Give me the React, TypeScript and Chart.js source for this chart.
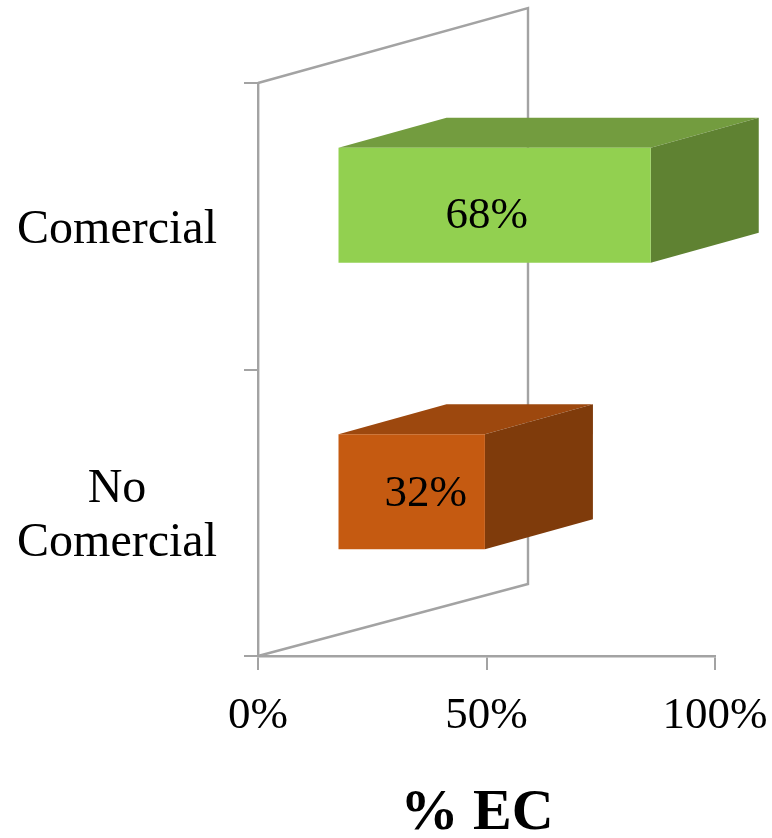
import React, { useEffect, useRef } from "react";
import { Chart, registerables } from "chart.js";

Chart.register(...registerables);

const categories = [["Comercial"], ["No", "Comercial"]];
const shares = [68, 32];
const shareLabels = ["68%", "32%"];
const frontColors = ["#92D050", "#C55A11"];
const topColors = ["#739C3F", "#9D480E"];
const sideColors = ["#5F8232", "#7F3B0B"];
const xTicks = [0, 50, 100];
const axisTitle = "% EC";

const GRAY = "#A3A3A3";
const SERIF = "'Liberation Serif'";

const FRONT_DX = 79.5;
const FRONT_DY = -21;
const FRONT_SCALE = 1.008;
const DEPTH_X = 108;
const DEPTH_Y = -30;
const WALL_X = 270;
const WALL_Y = -75;
const LABEL_SHIFT = [
  [-8, 11],
  [14, 2],
];

function poly(ctx: CanvasRenderingContext2D, pts: number[][], fill: string) {
  ctx.beginPath();
  pts.forEach(([x, y], i) => (i ? ctx.lineTo(x, y) : ctx.moveTo(x, y)));
  ctx.closePath();
  ctx.fillStyle = fill;
  ctx.fill();
}

const box3d = {
  id: "box3d",
  beforeDatasetsDraw(chart: any) {
    const { ctx, chartArea: a } = chart;
    ctx.save();
    ctx.strokeStyle = GRAY;
    ctx.lineWidth = 2.4;
    ctx.lineJoin = "miter";
    ctx.beginPath();
    ctx.moveTo(a.left, a.top);
    ctx.lineTo(a.left + WALL_X, a.top + WALL_Y);
    ctx.lineTo(a.left + WALL_X, a.bottom + WALL_Y + 3);
    ctx.lineTo(a.left, a.bottom);
    ctx.stroke();
    ctx.restore();
  },
  beforeDatasetDraw(chart: any) {
    const { ctx, chartArea: a } = chart;
    const meta = chart.getDatasetMeta(0);
    ctx.save();
    ctx.translate(a.left + FRONT_DX, FRONT_DY);
    ctx.scale(FRONT_SCALE, 1);
    ctx.translate(-a.left, 0);
    const dx = DEPTH_X / FRONT_SCALE;
    meta.data.forEach((bar: any, i: number) => {
      const { x, y, base, height } = bar.getProps(["x", "y", "base", "height"], true);
      const t = y - height / 2;
      const b = y + height / 2;
      poly(ctx, [[base, t], [x, t], [x + dx, t + DEPTH_Y], [base + dx, t + DEPTH_Y]], topColors[i]);
      poly(ctx, [[x, t], [x + dx, t + DEPTH_Y], [x + dx, b + DEPTH_Y], [x, b]], sideColors[i]);
    });
  },
  afterDatasetDraw(chart: any) {
    const { ctx } = chart;
    const meta = chart.getDatasetMeta(0);
    ctx.restore();
    ctx.save();
    ctx.font = `45px ${SERIF}`;
    ctx.fillStyle = "#000";
    ctx.textAlign = "center";
    ctx.textBaseline = "middle";
    meta.data.forEach((bar: any, i: number) => {
      const { x, y, base } = bar.getProps(["x", "y", "base"], true);
      const cx = base + FRONT_DX + ((x - base) * FRONT_SCALE) / 2 + LABEL_SHIFT[i][0];
      const cy = y + FRONT_DY + LABEL_SHIFT[i][1];
      ctx.fillText(shareLabels[i], cx, cy);
    });
    ctx.restore();
  },
  afterDraw(chart: any) {
    const { ctx } = chart;
    ctx.save();
    ctx.font = `bold 58px ${SERIF}`;
    ctx.fillStyle = "#000";
    ctx.textAlign = "center";
    ctx.textBaseline = "alphabetic";
    ctx.fillText(axisTitle, 477, 829);
    ctx.restore();
  },
};

export default function App() {
  const ref = useRef<HTMLCanvasElement>(null);
  useEffect(() => {
    document.body.style.margin = "0";
    document.body.style.background = "#fff";
    const chart = new Chart(ref.current!, {
      type: "bar",
      data: {
        labels: categories,
        datasets: [
          {
            data: shares,
            backgroundColor: frontColors,
            borderWidth: 0,
            barPercentage: 1,
            categoryPercentage: 0.402,
          },
        ],
      },
      plugins: [box3d],
      options: {
        indexAxis: "y",
        animation: false,
        responsive: false,
        devicePixelRatio: 1,
        layout: { padding: { top: 83, right: 57, bottom: 0, left: 0 } },
        plugins: { legend: { display: false }, tooltip: { enabled: false } },
        scales: {
          x: {
            min: 0,
            max: 100,
            afterBuildTicks(axis: any) {
              axis.ticks = xTicks.map((value) => ({ value }));
            },
            afterFit(axis: any) {
              axis.height = 182;
              axis.paddingLeft = 0;
              axis.paddingRight = 0;
            },
            grid: { drawOnChartArea: false, color: GRAY, lineWidth: 2, tickLength: 14 },
            border: { color: GRAY, width: 2.4 },
            ticks: {
              color: "#000",
              font: { family: SERIF, size: 45 },
              padding: 19,
              maxRotation: 0,
              autoSkip: false,
              callback: (v: any) => `${v}%`,
            },
          },
          y: {
            afterFit(axis: any) {
              axis.width = 258;
              axis.paddingTop = 0;
              axis.paddingBottom = 0;
            },
            grid: { drawOnChartArea: false, color: GRAY, lineWidth: 2, tickLength: 14 },
            border: { color: GRAY, width: 2.4 },
            ticks: {
              color: "#000",
              font: { family: SERIF, size: 48, lineHeight: 1.125 },
              padding: 27,
              labelOffset: 4,
              crossAlign: "center",
              autoSkip: false,
            },
          },
        },
      } as any,
    });
    return () => chart.destroy();
  }, []);
  return <canvas ref={ref} width={772} height={838} style={{ display: "block" }} />;
}
